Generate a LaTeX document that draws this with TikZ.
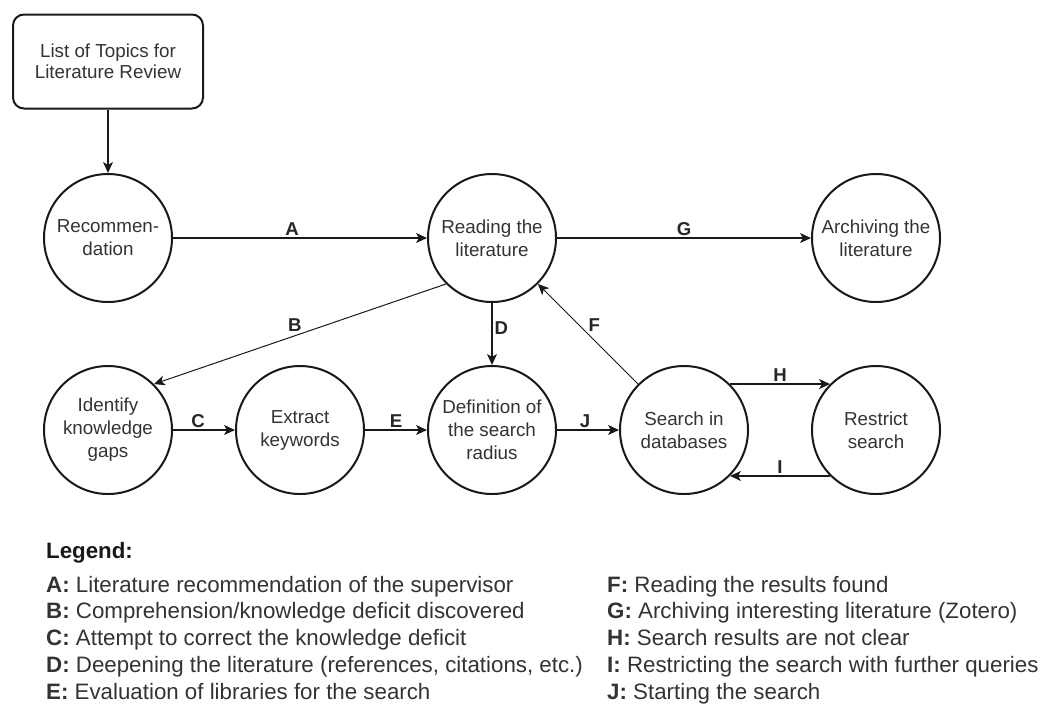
\documentclass[tikz,border=0pt]{standalone}
\usepackage{fontspec}
\setmainfont{Liberation Sans}
\usetikzlibrary{arrows.meta}
\begin{document}
\begin{tikzpicture}[x=1pt,y=-1pt,
  state/.style={circle, draw=black!90, line width=2pt, minimum size=128pt, inner sep=0pt, align=center, text=black!80, font=\fontsize{18.8}{23}\selectfont},
  topbox/.style={draw=black!90, rounded corners=11pt, line width=2pt, minimum width=190pt, minimum height=94pt, inner sep=0pt, align=center, text=black!80, font=\fontsize{18.8}{21}\selectfont},
  conn/.style={draw=black!90, line width=1.3pt, -{Stealth[length=11pt,width=10pt,inset=3pt]}},
  thin/.style={conn, line width=1pt},
  lbl/.style={font=\fontsize{18.6}{22}\selectfont\bfseries, text=black!85, inner sep=2pt},
  legend/.style={anchor=base west, inner sep=0pt, text=black!80, font=\fontsize{22.3}{26.75}\selectfont},
]
\useasboundingbox (0,0) rectangle (1043,704);

\node[topbox] (top) at (108,61.5) {List of Topics for\\Literature Review};

\node[state] (rec) at (108,238) {Recommen-\\dation};
\node[state] (read) at (492,238) {Reading the\\literature};
\node[state] (arch) at (876,238) {Archiving the\\literature};

\node[state] (gap) at (108,430) {Identify\\knowledge\\gaps};
\node[state] (key) at (300,430) {Extract\\keywords};
\node[state] (def) at (492,430) {Definition of\\the search\\radius};
\node[state] (db) at (684,430) {Search in\\databases};
\node[state] (res) at (876,430) {Restrict\\search};

\draw[conn] (top) -- (rec);
\draw[conn] (rec) -- node[lbl, above, xshift=-8pt] {A} (read);
\draw[conn] (read) -- node[lbl, above] {G} (arch);
\draw[thin] (read.south west) -- node[lbl, above left, pos=0.5, xshift=4pt] {B} (gap.north east);
\draw[conn] (read) -- node[lbl, right, pos=0.4] {D} (def);
\draw[thin] (db.north west) -- node[lbl, above right, pos=0.5, xshift=-2pt] {F} (read.south east);
\draw[conn] (gap) -- node[lbl, above, xshift=-6pt] {C} (key);
\draw[conn] (key) -- node[lbl, above] {E} (def);
\draw[conn] (def) -- node[lbl, above, xshift=-3pt] {J} (db);
\draw[conn] (db.45) -- node[lbl, above] {H} (res.135);
\draw[conn] (res.-135) -- node[lbl, above] {I} (db.-45);

\node[legend, text=black!90, font=\fontsize{22.3}{26.75}\selectfont\bfseries] (leg) at (46,558) {Legend:};
\node[legend] (la) at (46,592) {\textbf{A:} Literature recommendation of the supervisor};
\node[legend] (lb) at (46,618.75) {\textbf{B:} Comprehension/knowledge deficit discovered};
\node[legend] (lc) at (46,645.5) {\textbf{C:} Attempt to correct the knowledge deficit};
\node[legend] (ld) at (46,672.25) {\textbf{D:} Deepening the literature (references, citations, etc.)};
\node[legend] (le) at (46,699) {\textbf{E:} Evaluation of libraries for the search};
\node[legend] (lf) at (607,592) {\textbf{F:} Reading the results found};
\node[legend] (lg) at (607,618.75) {\textbf{G:} Archiving interesting literature (Zotero)};
\node[legend] (lh) at (607,645.5) {\textbf{H:} Search results are not clear};
\node[legend] (li) at (607,672.25) {\textbf{I:} Restricting the search with further queries};
\node[legend] (lj) at (607,699) {\textbf{J:} Starting the search};
\end{tikzpicture}
\end{document}
